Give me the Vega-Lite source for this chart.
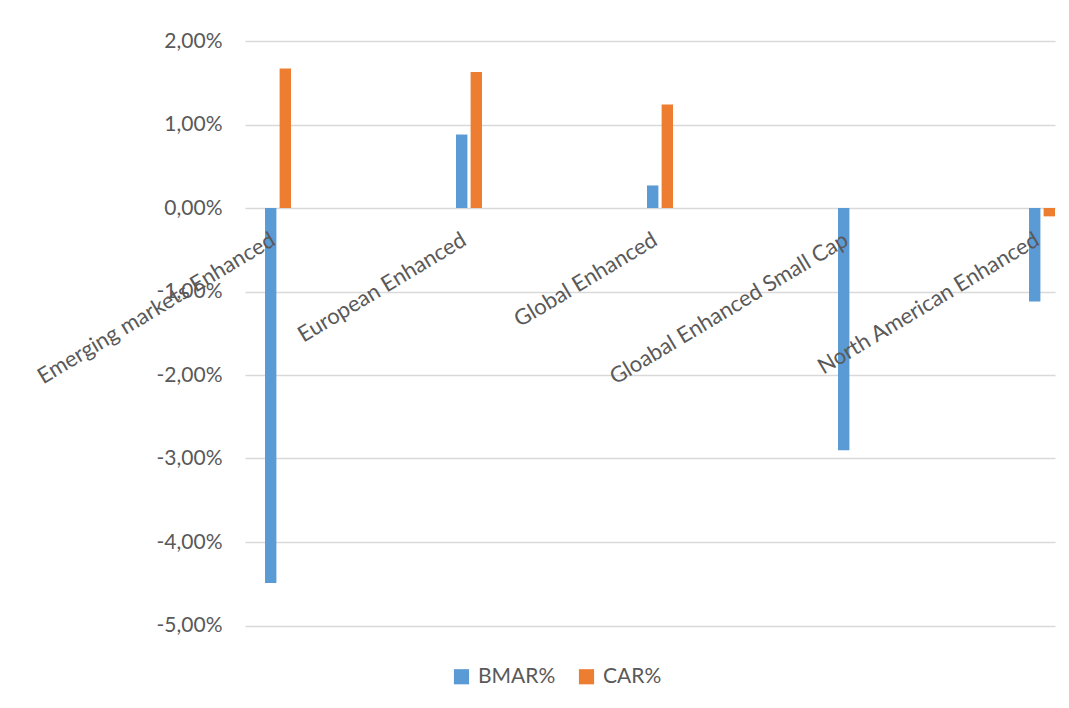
{
  "$schema": "https://vega.github.io/schema/vega-lite/v6.json",
  "autosize": {"type": "none"},
  "padding": {"left": 245, "top": 41, "right": 14, "bottom": 82.5},
  "width": 810,
  "height": 584.5,
  "background": "#ffffff",
  "config": {
    "locale": {
      "number": {
        "decimal": ",",
        "thousands": ".",
        "grouping": [3],
        "currency": ["", " €"],
        "minus": "-"
      }
    },
    "font": "Lato",
    "view": {"stroke": null},
    "axis": {
      "labelFont": "Lato",
      "labelFontSize": 21,
      "labelColor": "#595959",
      "titleFont": "Lato"
    },
    "legend": {
      "labelFont": "Lato",
      "labelFontSize": 21,
      "labelColor": "#595959"
    }
  },
  "data": {
    "values": [
      {"fund": "Emerging markets Enhanced", "series": "BMAR%", "value": -0.0449},
      {"fund": "Emerging markets Enhanced", "series": "CAR%", "value": 0.0167},
      {"fund": "European Enhanced", "series": "BMAR%", "value": 0.0088},
      {"fund": "European Enhanced", "series": "CAR%", "value": 0.0163},
      {"fund": "Global Enhanced", "series": "BMAR%", "value": 0.0027},
      {"fund": "Global Enhanced", "series": "CAR%", "value": 0.0124},
      {"fund": "Gloabal Enhanced Small Cap", "series": "BMAR%", "value": -0.029},
      {"fund": "Gloabal Enhanced Small Cap", "series": "CAR%", "value": 0},
      {"fund": "North American Enhanced", "series": "BMAR%", "value": -0.0112},
      {"fund": "North American Enhanced", "series": "CAR%", "value": -0.001}
    ]
  },
  "mark": {"type": "bar"},
  "encoding": {
    "x": {
      "field": "fund",
      "type": "nominal",
      "sort": null,
      "scale": {"paddingInner": 0.864, "paddingOuter": 0.0524, "align": 1},
      "axis": {
        "title": null,
        "orient": "bottom",
        "offset": -417.5,
        "domain": false,
        "ticks": false,
        "grid": false,
        "labelFontSize": 22,
        "labelAngle": -31,
        "labelAlign": "right",
        "labelBaseline": "top",
        "labelPadding": 21,
        "labelOffset": -10,
        "labelLimit": 0,
        "labelOverlap": false,
        "labelBound": false,
        "labelFlush": false,
        "zindex": 1
      }
    },
    "xOffset": {
      "field": "series",
      "type": "nominal",
      "scale": {"paddingInner": 0.22, "paddingOuter": 0}
    },
    "y": {
      "field": "value",
      "type": "quantitative",
      "scale": {"domain": [-0.05, 0.02], "nice": false, "zero": false},
      "axis": {
        "title": null,
        "values": [-0.05, -0.04, -0.03, -0.02, -0.01, 0, 0.01, 0.02],
        "format": ".2%",
        "domain": false,
        "ticks": false,
        "grid": true,
        "gridColor": "#D9D9D9",
        "gridWidth": 1.5,
        "labelPadding": 23,
        "zindex": 0
      }
    },
    "color": {
      "field": "series",
      "type": "nominal",
      "scale": {"domain": ["BMAR%", "CAR%"], "range": ["#5B9BD5", "#ED7D31"]},
      "legend": {
        "title": null,
        "orient": "none",
        "direction": "horizontal",
        "legendX": 206,
        "legendY": 625,
        "symbolType": "square",
        "symbolSize": 230,
        "labelOffset": 6,
        "columnPadding": 20
      }
    }
  }
}
